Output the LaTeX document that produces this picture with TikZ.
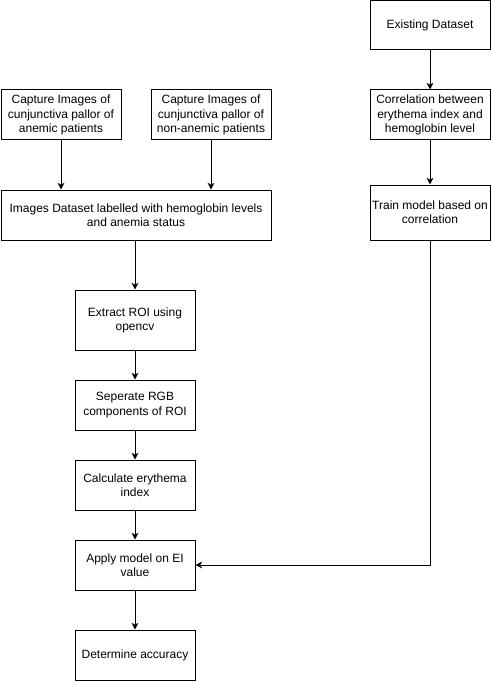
\documentclass[tikz,border=0pt]{standalone}
\usepackage{fontspec}
\setmainfont{Liberation Sans}
\usetikzlibrary{arrows.meta}
\begin{document}
\begin{tikzpicture}[x=0.75pt,y=-0.75pt,
  box/.style={draw,line width=0.75pt,align=center,inner sep=0pt,
    font=\fontsize{9}{10.6}\selectfont},
  bx/.style n args={2}{minimum width=#1*0.75pt,minimum height=#2*0.75pt},
  arr/.style={-{Stealth[length=5pt,width=5pt,inset=1.4pt]},line width=0.75pt}]
\useasboundingbox (0,0) rectangle (492,681);
\fill[white] (0,0) rectangle (492,681);
% right column
\node[box,bx={120}{49}] (ex) at (430,25.5) {Existing Dataset};
\node[box,bx={120}{50}] (cor) at (430,115) {Correlation between\\erythema index and\\hemoglobin level};
\node[box,bx={120}{55}] (tr) at (430,212.5) {Train model based on\\correlation};
% left top
\node[box,bx={120}{50}] (an) at (61,115) {Capture Images of\\cunjunctiva pallor of\\anemic patients};
\node[box,bx={120}{50}] (na) at (211,115) {Capture Images of\\cunjunctiva pallor of\\non-anemic patients};
\node[box,bx={270}{50}] (ds) at (136,215) {Images Dataset labelled with hemoglobin levels\\and anemia status};
% main column
\node[box,bx={120}{60}] (roi) at (135,320) {Extract ROI using\\opencv};
\node[box,bx={120}{50}] (rgb) at (135,405) {Seperate RGB\\components of ROI};
\node[box,bx={120}{50}] (ei) at (135,485) {Calculate erythema\\index};
\node[box,bx={120}{50}] (ap) at (135,565) {Apply model on EI\\value};
\node[box,bx={120}{50}] (acc) at (135,655) {Determine accuracy};
% connectors
\draw[arr] (ex) -- (cor);
\draw[arr] (cor) -- (tr);
\draw[arr] (an.south) -- (an.south |- ds.north);
\draw[arr] (na.south) -- (na.south |- ds.north);
\draw[arr] (roi.north |- ds.south) -- (roi.north);
\draw[arr] (roi) -- (rgb);
\draw[arr] (rgb) -- (ei);
\draw[arr] (ei) -- (ap);
\draw[arr] (ap) -- (acc);
\draw[arr] (tr.south) -- (tr.south |- ap.east) -- (ap.east);
\end{tikzpicture}
\end{document}
